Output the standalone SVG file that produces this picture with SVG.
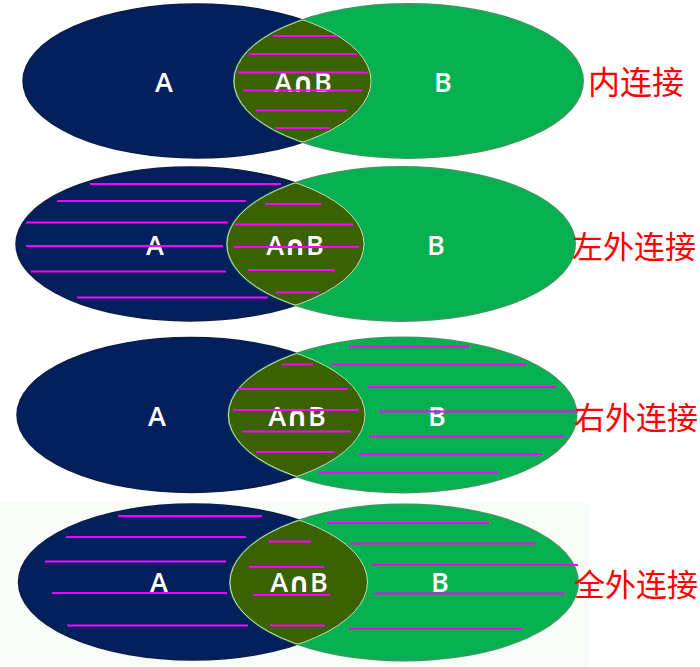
<svg xmlns="http://www.w3.org/2000/svg" width="700" height="667" viewBox="0 0 700 667">
<style>
.a{fill:#03205c;stroke:#0a1d4a;stroke-width:1.5}
.b{fill:#05b050;stroke:#2f9e5a;stroke-width:2}
.ab{fill:#3a6102}
.edge{fill:none;stroke:#c9d9b4;stroke-width:1}
.lbl{font-family:"Open Sans","DejaVu Sans",sans-serif;font-size:27px;font-weight:600;fill:#ffffff;text-anchor:middle}
.cn{font-family:"Noto Sans CJK SC","DejaVu Sans",sans-serif;font-size:32px;fill:#ff0000}
.cn4{font-size:31px}
.h line{stroke:#ff00ff;stroke-width:2}
</style>
<defs>
<clipPath id="cA1"><ellipse cx="197" cy="81" rx="174" ry="77"/></clipPath>
<clipPath id="cB1"><ellipse cx="408.5" cy="81" rx="174.5" ry="77"/></clipPath>
<clipPath id="cA2"><ellipse cx="190" cy="244" rx="174" ry="77"/></clipPath>
<clipPath id="cB2"><ellipse cx="401" cy="244" rx="174" ry="77"/></clipPath>
<clipPath id="cA3"><ellipse cx="191" cy="415" rx="174" ry="77.5"/></clipPath>
<clipPath id="cB3"><ellipse cx="402.5" cy="415" rx="174" ry="77.5"/></clipPath>
<clipPath id="cA4"><ellipse cx="193" cy="582" rx="174.5" ry="78"/></clipPath>
<clipPath id="cB4"><ellipse cx="404" cy="582.5" rx="174" ry="78"/></clipPath>
</defs>
<rect width="700" height="667" fill="#ffffff"/>
<rect x="0" y="502" width="589" height="165" fill="#f7fcf8"/>

<g id="inner-join">
<ellipse class="a" cx="197" cy="81" rx="174" ry="77"/>
<ellipse class="b" cx="408.5" cy="81" rx="174.5" ry="77"/>
<ellipse class="ab" cx="408.5" cy="81" rx="174.5" ry="77" clip-path="url(#cA1)"/>
<ellipse class="edge" cx="408.5" cy="81" rx="174.5" ry="77" clip-path="url(#cA1)"/>
<ellipse class="edge" cx="197" cy="81" rx="174" ry="77" clip-path="url(#cB1)"/>
<text class="lbl" x="164" y="92">A</text>
<text class="lbl" x="303" y="92">A∩B</text>
<text class="lbl" x="443" y="92">B</text>
<g class="h">
<line x1="273" y1="36" x2="337" y2="36"/>
<line x1="249" y1="54" x2="357" y2="54"/>
<line x1="238" y1="72.5" x2="368" y2="72.5"/>
<line x1="243" y1="90.5" x2="362" y2="90.5"/>
<line x1="256" y1="110.5" x2="347" y2="110.5"/>
<line x1="275" y1="128" x2="330" y2="128"/>
</g>
<text class="cn" x="588" y="94">内连接</text>
</g>

<g id="left-outer-join">
<ellipse class="a" cx="190" cy="244" rx="174" ry="77"/>
<ellipse class="b" cx="401" cy="244" rx="174" ry="77"/>
<ellipse class="ab" cx="401" cy="244" rx="174" ry="77" clip-path="url(#cA2)"/>
<ellipse class="edge" cx="401" cy="244" rx="174" ry="77" clip-path="url(#cA2)"/>
<ellipse class="edge" cx="190" cy="244" rx="174" ry="77" clip-path="url(#cB2)"/>
<text class="lbl" x="155" y="255">A</text>
<text class="lbl" x="295" y="255">A∩B</text>
<text class="lbl" x="436" y="255">B</text>
<g class="h">
<line x1="90" y1="184" x2="281" y2="184"/>
<line x1="57" y1="201" x2="246" y2="201"/>
<line x1="265" y1="204" x2="321" y2="204"/>
<line x1="26" y1="222.5" x2="228" y2="222.5"/>
<line x1="235" y1="224.5" x2="353" y2="224.5"/>
<line x1="26" y1="246" x2="223" y2="246"/>
<line x1="234" y1="247" x2="359" y2="247"/>
<line x1="31" y1="271.5" x2="226" y2="271.5"/>
<line x1="248" y1="270" x2="335" y2="270"/>
<line x1="276" y1="292.5" x2="319" y2="292.5"/>
<line x1="77" y1="297.5" x2="268" y2="297.5"/>
</g>
<text class="cn cn4" x="572" y="258">左外连接</text>
</g>

<g id="right-outer-join">
<ellipse class="a" cx="191" cy="415" rx="174" ry="77.5"/>
<ellipse class="b" cx="402.5" cy="415" rx="174" ry="77.5"/>
<ellipse class="ab" cx="402.5" cy="415" rx="174" ry="77.5" clip-path="url(#cA3)"/>
<ellipse class="edge" cx="402.5" cy="415" rx="174" ry="77.5" clip-path="url(#cA3)"/>
<ellipse class="edge" cx="191" cy="415" rx="174" ry="77.5" clip-path="url(#cB3)"/>
<text class="lbl" x="157" y="426">A</text>
<text class="lbl" x="297" y="426">A∩B</text>
<text class="lbl" x="437" y="426">B</text>
<g class="h">
<line x1="349" y1="346.5" x2="469" y2="346.5"/>
<line x1="282" y1="364.5" x2="313" y2="364.5"/>
<line x1="331" y1="364.5" x2="526" y2="364.5"/>
<line x1="368" y1="387" x2="556" y2="387"/>
<line x1="238" y1="389" x2="348" y2="389"/>
<line x1="233" y1="410" x2="359" y2="410"/>
<line x1="379" y1="411.5" x2="578" y2="411.5"/>
<line x1="242" y1="431.5" x2="351" y2="431.5"/>
<line x1="369" y1="436.5" x2="565" y2="436.5"/>
<line x1="256" y1="452" x2="334" y2="452"/>
<line x1="359" y1="454" x2="542" y2="454"/>
<line x1="318" y1="472.5" x2="498" y2="472.5"/>
</g>
<text class="cn cn4" x="574" y="429">右外连接</text>
</g>

<g id="full-outer-join">
<ellipse class="a" cx="193" cy="582" rx="174.5" ry="78"/>
<ellipse class="b" cx="404" cy="582.5" rx="174" ry="78"/>
<ellipse class="ab" cx="404" cy="582.5" rx="174" ry="78" clip-path="url(#cA4)"/>
<ellipse class="edge" cx="404" cy="582.5" rx="174" ry="78" clip-path="url(#cA4)"/>
<ellipse class="edge" cx="193" cy="582" rx="174.5" ry="78" clip-path="url(#cB4)"/>
<text class="lbl" x="159" y="592">A</text>
<text class="lbl" x="299" y="592">A∩B</text>
<text class="lbl" x="440" y="592">B</text>
<g class="h">
<line x1="118" y1="516" x2="262" y2="516"/>
<line x1="327" y1="523" x2="489" y2="523"/>
<line x1="66" y1="537" x2="246" y2="537"/>
<line x1="268" y1="541.5" x2="311" y2="541.5"/>
<line x1="350" y1="543.5" x2="536" y2="543.5"/>
<line x1="45" y1="561.5" x2="226" y2="561.5"/>
<line x1="372" y1="565" x2="578" y2="565"/>
<line x1="249" y1="567" x2="324" y2="567"/>
<line x1="52" y1="593" x2="227" y2="593"/>
<line x1="374" y1="593.5" x2="565" y2="593.5"/>
<line x1="253" y1="595" x2="330" y2="595"/>
<line x1="67" y1="625.5" x2="248" y2="625.5"/>
<line x1="270" y1="625.5" x2="325" y2="625.5"/>
<line x1="349" y1="629" x2="522" y2="629"/>
</g>
<text class="cn cn4" x="574" y="596">全外连接</text>
</g>
</svg>
